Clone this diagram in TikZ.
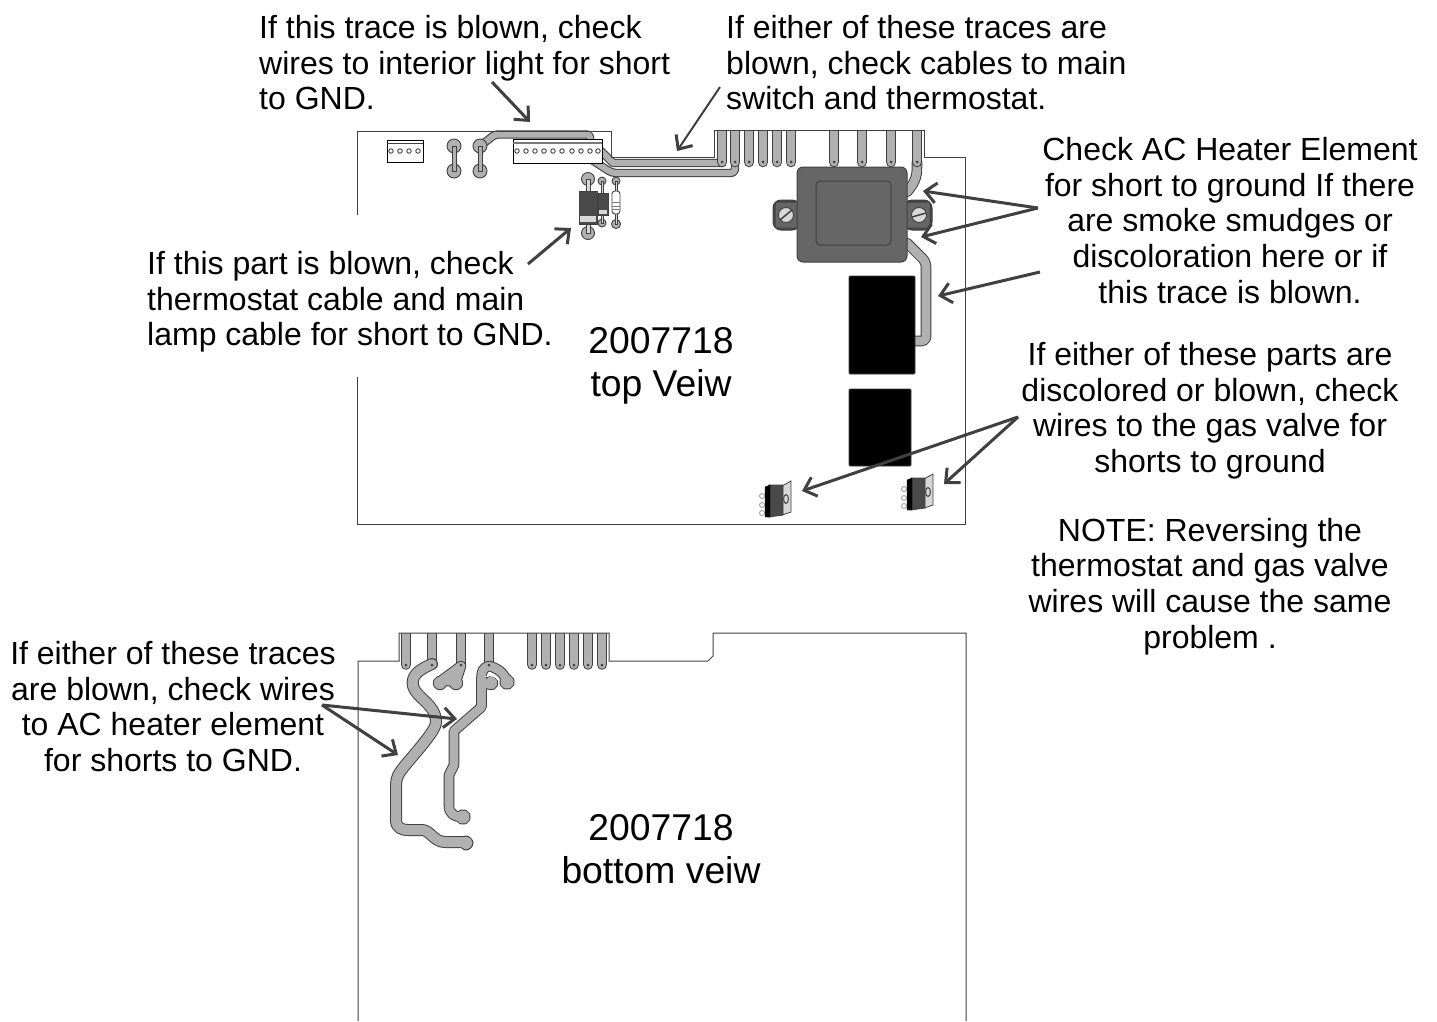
\documentclass[tikz,border=0pt]{standalone}
\usepackage{fontspec}
\setmainfont{Liberation Sans}
\usetikzlibrary{arrows.meta}
\definecolor{edge}{HTML}{404040}
\definecolor{tracegray}{HTML}{B0B0B0}
\definecolor{body}{HTML}{666666}
\definecolor{darkbody}{HTML}{4A4A4A}
\definecolor{lightgray}{HTML}{D8D8D8}
\tikzset{
 board/.style={draw=edge,line width=1pt},
 note/.style={inner sep=0pt,font=\fontsize{32}{35.7}\selectfont,text=black},
 bignote/.style={inner sep=0pt,align=center,anchor=north,font=\fontsize{37.3}{43}\selectfont,text=black},
 trace/.style={draw=tracegray,line width=8.6pt,line join=round,line cap=round,preaction={draw=edge,line width=10.6pt,line cap=round,line join=round}},
 narrow trace/.style={draw=tracegray,line width=6.2pt,line join=round,line cap=round,preaction={draw=edge,line width=8.4pt,line cap=round,line join=round}},
 wide trace/.style={draw=tracegray,line width=10pt,line join=round,line cap=round,preaction={draw=edge,line width=12pt,line cap=round,line join=round}},
 pad/.style={circle,draw=edge,fill=tracegray,line width=.9pt,inner sep=0pt,minimum size=#1},
 hole/.style={circle,fill=edge,inner sep=0pt,minimum size=3pt},
 pin/.style={circle,draw=edge,fill=white,line width=.9pt,inner sep=0pt,minimum size=4.5pt},
 lead/.style={draw=edge,fill=tracegray,line width=.8pt},
 callout/.style={draw=edge,line width=3pt,-{Straight Barb[length=11pt,width=20pt,line width=3pt]}},
 block/.style={draw=edge,fill=black,line width=.8pt,rounded corners=1pt},
 housing/.style={draw=edge,fill=body,line width=1pt},
}
\begin{document}
\begin{tikzpicture}[x=1pt,y=-1pt]
\useasboundingbox (0,0) rectangle (1437,1021);
% top traces
\begin{scope}
\clip (300,130) rectangle (1000,500);
\draw[narrow trace,rounded corners=4pt] (735,160) -- (735,173) -- (612,173) -- (592,160);
\draw[narrow trace] (722,163) -- (613,163) -- (600,150);
\draw[narrow trace,rounded corners=3pt] (480,146) -- (495,134.5) -- (590,134.5) -- (590,142);
\draw[trace] (907,192) .. controls (917,180) and (917,175) .. (917,162);
\draw[trace,rounded corners=4pt] (907,243) -- (926,262) -- (926,341) -- (914,341);
\foreach \x in {722,735,749,763,777,791,834,862,891,917}{
 \draw[trace] (\x,125) -- (\x,162);
 \node[hole] at (\x,162) {};
}
\end{scope}
% top board
\draw[board] (357,215) -- (357,131) -- (611,131) -- (611,157) -- (714,157) -- (714,130) -- (924,130) -- (924,157) -- (965,157) -- (965,524) -- (357,524) -- (357,377);
% connectors
\node[draw=black,fill=white,line width=1pt,minimum width=36pt,minimum height=22pt,inner sep=0pt] (c1) at (405,151) {};
\draw[edge,line width=1pt] (387,143) -- (423,143);
\foreach \x in {391,400,409,418}{\node[pin] at (\x,151) {};}
\node[draw=black,fill=white,line width=1pt,minimum width=89pt,minimum height=24pt,inner sep=0pt] (c2) at (557.5,151) {};
\draw[edge!70,line width=1.4pt] (513,143) -- (602,143);
\foreach \x in {517,526,535,544,553,562,572,581,590,598}{\node[pin] at (\x,151) {};}
% jumpers
\foreach \x in {454,480}{
 \node[pad=14pt] at (\x,146) {};
 \node[pad=14pt] at (\x,171) {};
 \draw[lead] (\x-2,146) rectangle (\x+2,171);
}
% diodes
\node[pad=13pt] at (588,179) {};
\node[pad=13pt] at (588,233) {};
\draw[lead,fill=lightgray] (586,179) rectangle (590,233);
\draw[draw=edge,fill=darkbody,line width=1pt] (579,191) rectangle (597,224);
\draw[draw=none,fill=lightgray] (580,216) rectangle (596,222);
\node[pad=8pt] at (602,181) {};
\node[pad=8pt] at (602,223) {};
\draw[lead,fill=lightgray] (601,181) rectangle (603,223);
\draw[draw=edge,fill=darkbody,line width=1pt] (598,193) rectangle (608,215);
\draw[draw=none,fill=lightgray] (599,210) rectangle (607,214);
\node[pad=8pt] at (616,181) {};
\node[pad=9pt] at (616,224) {};
\draw[lead,fill=lightgray] (615,181) rectangle (617,224);
\draw[draw=edge,fill=white,line width=.9pt,rounded corners=3pt] (612,191) rectangle (620,214);
\foreach \y in {202,206,209}{\draw[edge!70,line width=.8pt] (612,\y) -- (620,\y);}
% transformer
\draw[housing,fill=darkbody,rounded corners=8pt] (773,200) rectangle (800,230);
\draw[housing,rounded corners=2pt] (775,202) -- (800,202) -- (800,228) -- (775,228) -- cycle;
\draw[housing,fill=darkbody,rounded corners=8pt] (904,200) rectangle (932,230);
\draw[housing,rounded corners=2pt] (904,202) -- (930,202) -- (930,228) -- (904,228) -- cycle;
\draw[housing,rounded corners=6pt] (797,167) rectangle (907,262);
\draw[housing,rounded corners=4pt] (816,181) rectangle (891,245);
\node[circle,draw=edge,fill=lightgray,line width=.9pt,inner sep=0pt,minimum size=15pt] (s1) at (786,215) {};
\node[circle,draw=edge,fill=lightgray,line width=.9pt,inner sep=0pt,minimum size=15pt] (s2) at (919,215) {};
\draw[edge,line width=1.5pt] (780,220) -- (792,210);
\draw[edge,line width=1.5pt] (912,217) -- (926,213);
% black relays
\draw[block] (849,276) rectangle (915,374);
\draw[block] (849,389) rectangle (911,466);
% transistors
\foreach \x/\y in {765/481,907/474}{
 \foreach \d in {15,24,32}{\node[circle,draw=gray!70,fill=white,line width=1pt,inner sep=0pt,minimum size=5pt] at (\x-3,\y+\d) {};}
 \draw[draw=edge,fill=lightgray,line width=.8pt] (\x+17,\y+5) -- (\x+26,\y) -- (\x+26,\y+31) -- (\x+17,\y+34) -- cycle;
 \draw[edge,line width=1pt] (\x+21,\y+18) ellipse (2.4 and 4.5);
 \draw[draw=edge,fill=darkbody,line width=.8pt] (\x+4,\y+4) -- (\x+18,\y+4) -- (\x+18,\y+34) -- (\x+4,\y+36) -- cycle;
 \draw[draw=black,fill=black] (\x,\y+6) -- (\x+5,\y+4) -- (\x+5,\y+36) -- (\x,\y+36) -- cycle;
}
% bottom traces
\begin{scope}
\clip (300,633) rectangle (1000,1021);
\foreach \x in {406,532,546,560,574,588,602}{
 \draw[trace] (\x,628) -- (\x,664.5);
 \node[hole] at (\x,665) {};
}
\draw[trace] (432,628) -- (432,664) (461,628) -- (461,664) (489,628) -- (489,664);
\draw[wide trace] (432,664) .. controls (418,670) and (411,676) .. (413,686) .. controls (416,698) and (436,704) .. (436,722) .. controls (436,732) and (410,758) .. (400,772) .. controls (396,778) and (396,782) .. (396,790) -- (396,820) .. controls (396,828) and (402,830) .. (408,830) -- (422,830) .. controls (430,830) and (434,842) .. (445,842) -- (465,842) (466,843) circle (1.5);
\draw[trace,fill=tracegray] (461,666) -- (442,680) -- (448,681) -- (456,681) -- cycle (440,683) circle (2) (456,683) circle (2);
\draw[trace] (489,666) .. controls (482,668) and (481.5,672) .. (481.5,680) -- (481.5,707) -- (454,731) -- (454,765) -- (449,775) -- (449,806) .. controls (449,814) and (455,817) .. (462,817) (463,817) circle (2.5)
 (489,666) .. controls (498,668) and (505,674) .. (507,682) (507,682) circle (2.5)
 (481.5,684) -- (491,684) (491,683) circle (2);
\draw[draw=white,line width=1pt] (486,676.5) .. controls (490,675) and (496,676) .. (498,680);
\foreach \x in {432,461,489}{\node[hole] at (\x,665) {};}
\end{scope}
% bottom board
\draw[board] (358,1021) -- (358,661) -- (399,661) -- (399,633) -- (609,633) -- (609,661) -- (708,661) -- (713,656) -- (713,633) -- (966,633) -- (966,1021);
% labels
\node[note,align=left,anchor=north west] (tA) at (259,15) {If this trace is blown, check\\wires to interior light for short\\to GND.};
\node[note,align=left,anchor=north west] (tB) at (726,15) {If either of these traces are\\blown, check cables to main\\switch and thermostat.};
\node[note,align=center,anchor=north] (tC) at (1230,137) {Check AC Heater Element\\for short to ground If there\\are smoke smudges or\\discoloration here or if\\this trace is blown.};
\node[note,align=left,anchor=north west] (tD) at (147,251) {If this part is blown, check\\thermostat cable and main\\lamp cable for short to GND.};
\node[note,align=center,anchor=north] (tE) at (1210,342) {If either of these parts are\\discolored or blown, check\\wires to the gas valve for\\shorts to ground\\[33pt]NOTE: Reversing the\\thermostat and gas valve\\wires will cause the same\\problem .};
\node[note,align=center,anchor=north] (tF) at (173,641) {If either of these traces\\are blown, check wires\\to AC heater element\\for shorts to GND.};
\node[bignote] (tG) at (661,327) {2007718\\top Veiw};
\node[bignote] (tH) at (661,814) {2007718\\bottom veiw};
% arrows
\coordinate (a1s) at (492,82); \coordinate (a1e) at (530,122);
\coordinate (a2s) at (720,87); \coordinate (a2e) at (677,151);
\coordinate (a3s) at (1038,208); \coordinate (a3e) at (923,191);
\coordinate (a4e) at (921,237);
\coordinate (a5s) at (1040,272); \coordinate (a5e) at (938,296);
\coordinate (a6s) at (1018,417); \coordinate (a6e) at (802,491);
\coordinate (a7e) at (944,484);
\coordinate (a8s) at (528,264); \coordinate (a8e) at (571,228);
\coordinate (a9s) at (322,705); \coordinate (a9e) at (457,719);
\coordinate (a10e) at (398,755);
\draw[callout] (a1s) -- (a1e);
\draw[callout,line width=2pt] (a2s) -- (a2e);
\draw[callout] (a3s) -- (a3e);
\draw[callout] (a3s) -- (a4e);
\draw[callout] (a5s) -- (a5e);
\draw[callout] (a6s) -- (a6e);
\draw[callout] (a6s) -- (a7e);
\draw[callout] (a8s) -- (a8e);
\draw[callout] (a9s) -- (a9e);
\draw[callout] (a9s) -- (a10e);
\end{tikzpicture}
\end{document}
